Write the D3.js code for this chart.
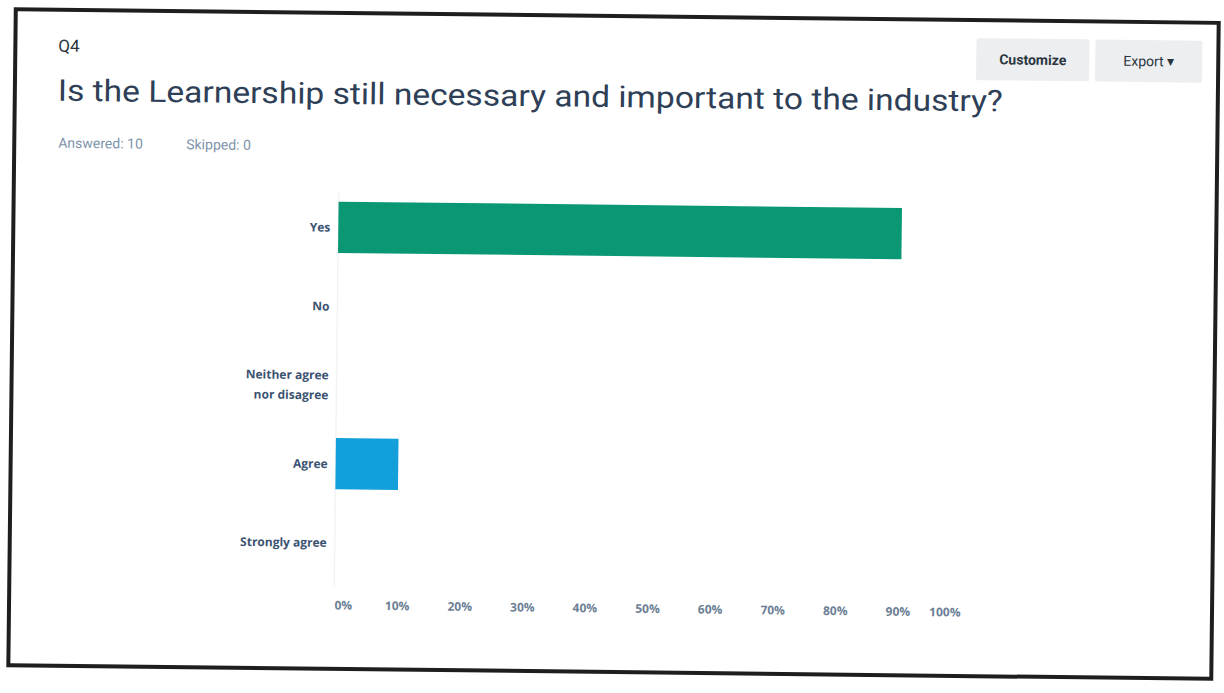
<!DOCTYPE html>
<html>
<head>
<meta charset="utf-8">
<script src="https://cdn.jsdelivr.net/npm/d3@7"></script>
<style>
  body { margin: 0; background: #fff; }
  svg { display: block; }
</style>
</head>
<body>
<script>
// survey question data
var questionId = "Q4";
var questionText = "Is the Learnership still necessary and important to the industry?";
var answered = 10;
var skipped = 0;

var categories = ["Yes", "No", "Neither agree nor disagree", "Agree", "Strongly agree"];
var values     = [0.90, 0, 0, 0.10, 0];
var barColors  = ["#0a9773", "#0a9773", "#0a9773", "#13a0da", "#13a0da"];
var tickValues = [0, 0.1, 0.2, 0.3, 0.4, 0.5, 0.6, 0.7, 0.8, 0.9, 1.0];

const width = 1224, height = 693;

const svg = d3.select("body")
  .append("svg")
  .attr("width", width)
  .attr("height", height);

// soft shadow for the scanned page edge
const defs = svg.append("defs");
defs.append("filter").attr("id", "blur")
  .append("feGaussianBlur").attr("stdDeviation", 1.8);

// the scan is slightly tilted
const page = svg.append("g")
  .attr("transform", "rotate(0.65, 612, 346)");

// page frame
page.append("line")
  .attr("x1", 8).attr("x2", 1218)
  .attr("y1", 676).attr("y2", 676)
  .attr("stroke", "#222").attr("stroke-width", 11)
  .attr("filter", "url(#blur)");
page.append("rect")
  .attr("x", 12).attr("y", 16)
  .attr("width", 1203).attr("height", 656)
  .attr("fill", "#fff")
  .attr("stroke", "#1e1e1e")
  .attr("stroke-width", 4);

// header
page.append("text")
  .attr("x", 55).attr("y", 58)
  .attr("font-family", "Roboto, sans-serif")
  .attr("font-size", 17)
  .attr("fill", "#2b3540")
  .text(questionId);

page.append("text")
  .attr("x", 55).attr("y", 107)
  .attr("font-family", "Roboto, sans-serif")
  .attr("font-size", 30)
  .attr("fill", "#2e3f57")
  .attr("textLength", 945)
  .attr("lengthAdjust", "spacingAndGlyphs")
  .text(questionText);

page.append("text")
  .attr("x", 56).attr("y", 154)
  .attr("font-family", "Roboto, sans-serif")
  .attr("font-size", 14)
  .attr("fill", "#7d93ab")
  .text("Answered: " + answered);

page.append("text")
  .attr("x", 184).attr("y", 154)
  .attr("font-family", "Roboto, sans-serif")
  .attr("font-size", 14)
  .attr("fill", "#7d93ab")
  .text("Skipped: " + skipped);

// buttons
var buttons = [
  {label: "Customize", x: 973, w: 113, weight: "bold"},
  {label: "Export \u25BE", x: 1092, w: 107, weight: "normal"}
];
var btn = page.selectAll("g.btn")
  .data(buttons)
  .enter()
  .append("g")
  .attr("class", "btn");
btn.append("rect")
  .attr("x", d => d.x).attr("y", 34)
  .attr("width", d => d.w).attr("height", 42)
  .attr("rx", 2)
  .attr("fill", "#eceef0");
btn.append("text")
  .attr("x", d => d.x + d.w / 2).attr("y", 60)
  .attr("text-anchor", "middle")
  .attr("font-family", "Roboto, sans-serif")
  .attr("font-size", 14)
  .attr("font-weight", d => d.weight)
  .attr("fill", "#2b3540")
  .text(d => d.label);

// scales
const x = d3.scaleLinear()
  .domain([0, 1])
  .range([337, 963]);

const y = d3.scaleBand()
  .domain(categories)
  .range([191, 585])
  .paddingInner(0.35)
  .paddingOuter(0.175);

// faint baseline
page.append("line")
  .attr("x1", x(0)).attr("x2", x(0))
  .attr("y1", 195).attr("y2", 590)
  .attr("stroke", "#f1f3f5")
  .attr("stroke-width", 1.5);

// bars
page.selectAll("rect.bar")
  .data(categories)
  .enter()
  .append("rect")
  .attr("class", "bar")
  .attr("x", x(0))
  .attr("y", d => y(d))
  .attr("width", (d, i) => x(values[i]) - x(0))
  .attr("height", y.bandwidth())
  .attr("fill", (d, i) => barColors[i]);

// category labels, wrapped to two lines when long
const labels = page.selectAll("text.cat")
  .data(categories)
  .enter()
  .append("text")
  .attr("class", "cat")
  .attr("text-anchor", "end")
  .attr("font-family", "'Open Sans', sans-serif")
  .attr("font-size", 12)
  .attr("font-weight", "bold")
  .attr("fill", "#3b5372");

labels.each(function(d) {
  var words = d.split(" ");
  var lines = d.length > 16 ? [words.slice(0, 2).join(" "), words.slice(2).join(" ")] : [d];
  var cy = y(d) + y.bandwidth() / 2;
  var t = d3.select(this);
  lines.forEach(function(line, k) {
    t.append("tspan")
      .attr("x", x(0) - 8)
      .attr("y", cy + 4.5 + (k - (lines.length - 1) / 2) * 20)
      .text(line);
  });
});

// x axis labels
const xAxis = d3.axisBottom(x)
  .tickValues(tickValues)
  .tickFormat(d3.format(".0%"))
  .tickSize(0)
  .tickPadding(0);

const axisG = page.append("g")
  .attr("transform", "translate(0,604)")
  .call(xAxis);

axisG.select(".domain").remove();
axisG.selectAll("text")
  .attr("font-family", "'Open Sans', sans-serif")
  .attr("font-size", 12)
  .attr("font-weight", "bold")
  .attr("fill", "#6c7f95")
  .attr("text-anchor", (d, i) => i === 0 ? "start" : (i === tickValues.length - 1 ? "end" : "middle"));
</script>
</body>
</html>
